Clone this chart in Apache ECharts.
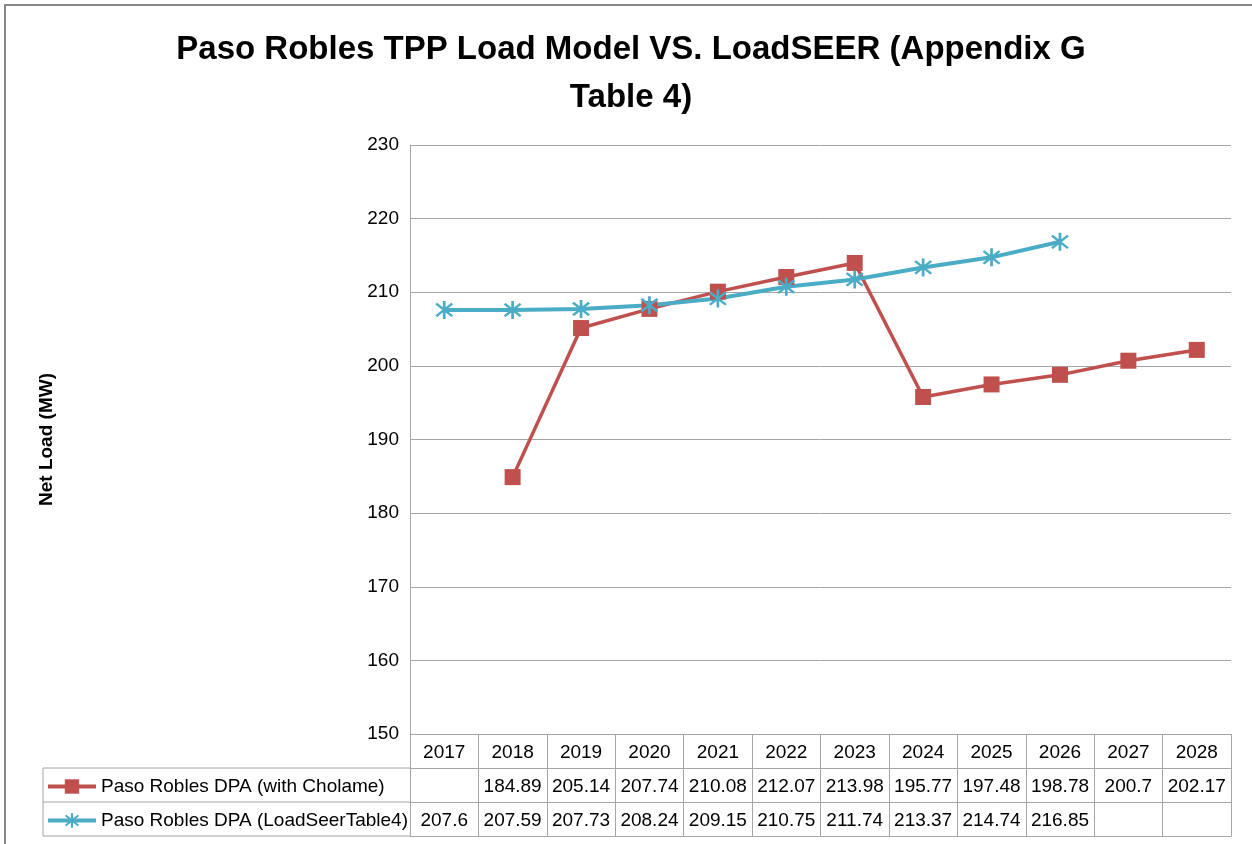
<!DOCTYPE html>
<html>
<head>
<meta charset="utf-8">
<script src="https://cdn.jsdelivr.net/npm/echarts@6/dist/echarts.min.js"></script>
<style>
html,body{margin:0;padding:0;background:#fff;}
#chart{width:1252px;height:844px;}
</style>
</head>
<body>
<div id="chart"></div>
<script>
const years = ['2017','2018','2019','2020','2021','2022','2023','2024','2025','2026','2027','2028'];
const cholame = [null, 184.89, 205.14, 207.74, 210.08, 212.07, 213.98, 195.77, 197.48, 198.78, 200.7, 202.17];
const loadSeer = [207.6, 207.59, 207.73, 208.24, 209.15, 210.75, 211.74, 213.37, 214.74, 216.85, null, null];
const yTicks = [150, 160, 170, 180, 190, 200, 210, 220, 230];
const seriesNames = ['Paso Robles DPA (with Cholame)', 'Paso Robles DPA (LoadSeerTable4)'];
const titleText = 'Paso Robles TPP Load Model VS. LoadSEER (Appendix G\nTable 4)';
const yName = 'Net Load (MW)';

const FONT = 'Liberation Sans';
const gridColor = '#A6A6A6';
const red = '#C0504D';
const blue = '#4BACC6';
const asterisk = 'path://M-1.2,-10 L-1.2,10 L1.2,10 L1.2,-10 Z ' +
  'M6.2,7.9 L7.9,6.2 L-6.2,-7.9 L-7.9,-6.2 Z ' +
  'M7.9,-6.2 L6.2,-7.9 L-7.9,6.2 L-6.2,7.9 Z';

function fmt(v){ return v == null ? '' : String(v); }

function tableAxis(data, offset, showLabel, showTick){
  return {
    type: 'category', data: data, position: 'bottom', offset: offset,
    boundaryGap: true,
    axisLine: {show: true, lineStyle: {color: gridColor, width: 1}},
    axisTick: {show: showTick, length: 34, interval: 0, lineStyle: {color: gridColor, width: 1}},
    axisLabel: {show: showLabel, interval: 0, margin: 9, fontSize: 19, color: '#000', fontFamily: FONT},
    splitLine: {show: false}
  };
}

const chart = echarts.init(document.getElementById('chart'));
chart.setOption({
  backgroundColor: '#fff',
  animation: false,
  title: {
    text: titleText, left: 631, top: 26, padding: 0, textAlign: 'center',
    textStyle: {fontFamily: FONT, fontWeight: 'bold', fontSize: 33, lineHeight: 48, color: '#000'}
  },
  grid: {left: 410, right: 21, top: 145, bottom: 110, containLabel: false},
  legend: {
    orient: 'vertical', left: 46, top: 777, itemGap: 15, padding: 0,
    itemWidth: 48, itemHeight: 18,
    data: seriesNames,
    lineStyle: {width: 4},
    textStyle: {fontFamily: FONT, fontSize: 19, color: '#000'}
  },
  xAxis: [
    tableAxis(years, 0, true, true),
    tableAxis(cholame.map(fmt), 34, true, true),
    tableAxis(loadSeer.map(fmt), 68, true, true),
    tableAxis(years, 102, false, false)
  ],
  yAxis: {
    type: 'value', min: yTicks[0], max: yTicks[yTicks.length - 1], interval: 10,
    axisLine: {show: true, lineStyle: {color: gridColor}},
    axisTick: {show: false},
    axisLabel: {fontFamily: FONT, fontSize: 19, color: '#000', margin: 11},
    splitLine: {lineStyle: {color: gridColor, width: 1}},
    name: yName, nameLocation: 'middle', nameGap: 354, nameRotate: 90,
    nameTextStyle: {fontFamily: FONT, fontWeight: 'bold', fontSize: 19, color: '#000'}
  },
  series: [
    {
      name: seriesNames[0], type: 'line', xAxisIndex: 0, data: cholame,
      symbol: 'rect', symbolSize: 16, connectNulls: false,
      lineStyle: {color: red, width: 3.5}, itemStyle: {color: red}
    },
    {
      name: seriesNames[1], type: 'line', xAxisIndex: 0, data: loadSeer,
      symbol: asterisk, symbolSize: 18,
      lineStyle: {color: blue, width: 4}, itemStyle: {color: blue}
    }
  ],
  graphic: [
    {type: 'rect', shape: {x: 5, y: 5, width: 1300, height: 900}, style: {fill: 'none', stroke: '#878787', lineWidth: 2}, silent: true},
    {type: 'line', shape: {x1: 43, y1: 768, x2: 410, y2: 768}, style: {stroke: gridColor, lineWidth: 1}},
    {type: 'line', shape: {x1: 43, y1: 802, x2: 410, y2: 802}, style: {stroke: gridColor, lineWidth: 1}},
    {type: 'line', shape: {x1: 43, y1: 836, x2: 410, y2: 836}, style: {stroke: gridColor, lineWidth: 1}},
    {type: 'line', shape: {x1: 43, y1: 768, x2: 43, y2: 836}, style: {stroke: gridColor, lineWidth: 1}}
  ]
});
</script>
</body>
</html>
